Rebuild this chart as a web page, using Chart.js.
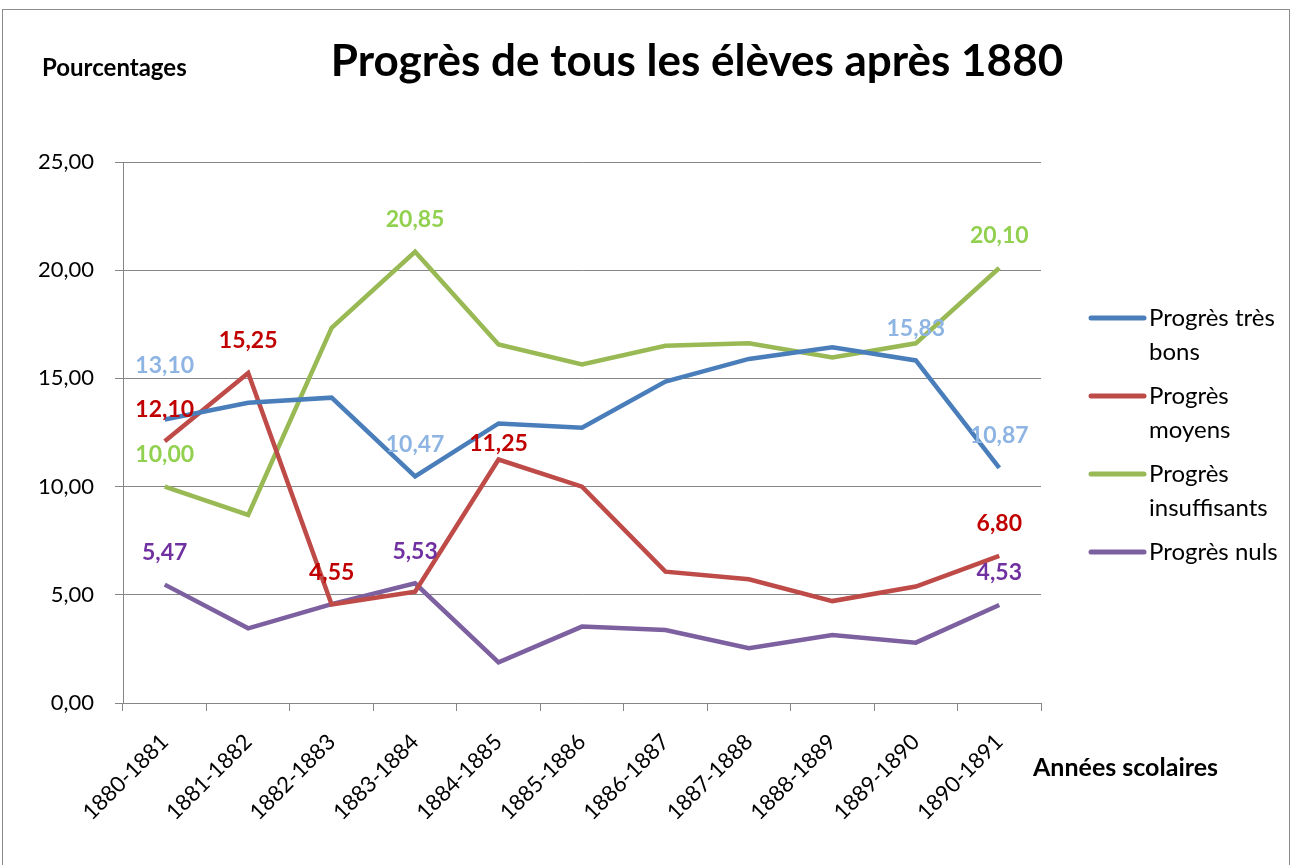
<!DOCTYPE html>
<html>
<head>
<meta charset="utf-8">
<title>Progrès de tous les élèves après 1880</title>
<script src="https://cdn.jsdelivr.net/npm/chart.js@4.4.0/dist/chart.umd.min.js"></script>
<style>
  html, body { margin: 0; padding: 0; background: #fff; }
  #wrap { width: 1293px; height: 865px; position: relative; }
</style>
</head>
<body>
<div id="wrap"><canvas id="progresChart" width="1293" height="865"></canvas></div>
<script>
// data
const annees = ["1880-1881", "1881-1882", "1882-1883", "1883-1884", "1884-1885", "1885-1886",
  "1886-1887", "1887-1888", "1888-1889", "1889-1890", "1890-1891"];
const tresBons = [13.10, 13.87, 14.11, 10.47, 12.92, 12.72, 14.85, 15.90, 16.44, 15.83, 10.87];
const moyens = [12.10, 15.25, 4.55, 5.14, 11.25, 10.00, 6.07, 5.72, 4.71, 5.38, 6.80];
const insuffisants = [10.00, 8.69, 17.34, 20.85, 16.57, 15.65, 16.51, 16.62, 15.97, 16.62, 20.10];
const nuls = [5.47, 3.45, 4.57, 5.53, 1.88, 3.53, 3.37, 2.53, 3.14, 2.79, 4.53];
const seriesNames = ["Progrès très bons", "Progrès moyens", "Progrès insuffisants", "Progrès nuls"];
const legendLines = [["Progrès très", "bons"], ["Progrès", "moyens"], ["Progrès", "insuffisants"], ["Progrès nuls"]];
const yTicks = [0, 5, 10, 15, 20, 25];

// which points get a value label in each series
const labeledPoints = [[0, 3, 9, 10], [0, 1, 2, 4, 10], [0, 3, 10], [0, 3, 10]];

const lineColors = ["#4A7EBB", "#BE4B48", "#98B954", "#7D60A0"];
const labelColors = ["#8DB4E2", "#C00000", "#92D050", "#7030A0"];
// a couple of labels were moved by Excel to avoid overlaps
const labelNudge = { "0-0": -22, "1-4": 16 };

const FONT = "Lato, 'Liberation Sans', sans-serif";
const GRID = "#868686";

function fmt(v) {
  return v.toFixed(2).replace(".", ",");
}

const decorations = {
  id: "decorations",
  afterDatasetsDraw(chart) {
    const ctx = chart.ctx;
    ctx.save();
    ctx.font = "bold 23px " + FONT;
    ctx.textAlign = "center";
    ctx.textBaseline = "middle";
    chart.data.datasets.forEach((ds, di) => {
      const meta = chart.getDatasetMeta(di);
      labeledPoints[di].forEach((i) => {
        const pt = meta.data[i];
        const shift = labelNudge[di + "-" + i] || 0;
        ctx.fillStyle = labelColors[di];
        ctx.fillText(fmt(ds.data[i]), pt.x, pt.y - 32 + shift);
      });
    });
    ctx.restore();
  },
  afterDraw(chart) {
    const ctx = chart.ctx;
    ctx.save();

    // outer frame
    ctx.strokeStyle = "#8C8C8C";
    ctx.lineWidth = 1;
    ctx.strokeRect(2.5, 9.5, 1287, 880);

    ctx.fillStyle = "#000";
    ctx.textBaseline = "middle";

    ctx.font = "bold 44px " + FONT;
    ctx.textAlign = "center";
    ctx.fillText("Progrès de tous les élèves après 1880", 697, 62);

    ctx.textAlign = "left";
    ctx.font = "bold 24px " + FONT;
    ctx.fillText("Pourcentages", 42, 68);

    ctx.font = "bold 25px " + FONT;
    ctx.fillText("Années scolaires", 1033, 768);

    // legend with wrapped labels
    ctx.font = "24px " + FONT;
    let y = 318;
    legendLines.forEach((lines, di) => {
      ctx.strokeStyle = lineColors[di];
      ctx.lineWidth = 5;
      ctx.lineCap = "round";
      ctx.beginPath();
      ctx.moveTo(1091, y);
      ctx.lineTo(1144, y);
      ctx.stroke();
      ctx.fillStyle = "#000";
      lines.forEach((t, k) => ctx.fillText(t, 1149, y + k * 34));
      y += lines.length * 34 + 10;
    });

    ctx.restore();
  }
};

const ctx = document.getElementById("progresChart").getContext("2d");
new Chart(ctx, {
  type: "line",
  data: {
    labels: annees,
    datasets: [tresBons, moyens, insuffisants, nuls].map((vals, i) => ({
      label: seriesNames[i],
      data: vals,
      borderColor: lineColors[i],
      backgroundColor: lineColors[i],
      borderWidth: 4.5,
      pointRadius: 0,
      tension: 0,
      fill: false,
    })),
  },
  options: {
    responsive: false,
    animation: false,
    devicePixelRatio: 1,
    layout: { padding: { left: 0, top: 162, right: 252, bottom: 0 } },
    plugins: {
      legend: { display: false },
      title: { display: false },
      tooltip: { enabled: false },
    },
    scales: {
      x: {
        offset: true,
        afterFit: (scale) => { scale.height = 162; },
        grid: {
          offset: true,
          drawOnChartArea: false,
          drawTicks: true,
          tickLength: 8,
          tickColor: GRID,
        },
        border: { display: true, color: GRID, width: 1 },
        ticks: {
          autoSkip: false,
          minRotation: 45,
          maxRotation: 45,
          color: "#000",
          font: { family: FONT, size: 22 },
          padding: 18,
        },
      },
      y: {
        min: 0,
        max: 25,
        afterFit: (scale) => { scale.width = 123; },
        afterBuildTicks: (scale) => { scale.ticks = yTicks.map((v) => ({ value: v })); },
        grid: {
          color: GRID,
          lineWidth: 1,
          drawTicks: true,
          tickLength: 8,
          tickColor: GRID,
        },
        border: { display: true, color: GRID, width: 1 },
        ticks: {
          color: "#000",
          font: { family: FONT, size: 22 },
          padding: 21,
          callback: (v) => fmt(v),
        },
      },
    },
  },
  plugins: [decorations],
});
</script>
</body>
</html>
